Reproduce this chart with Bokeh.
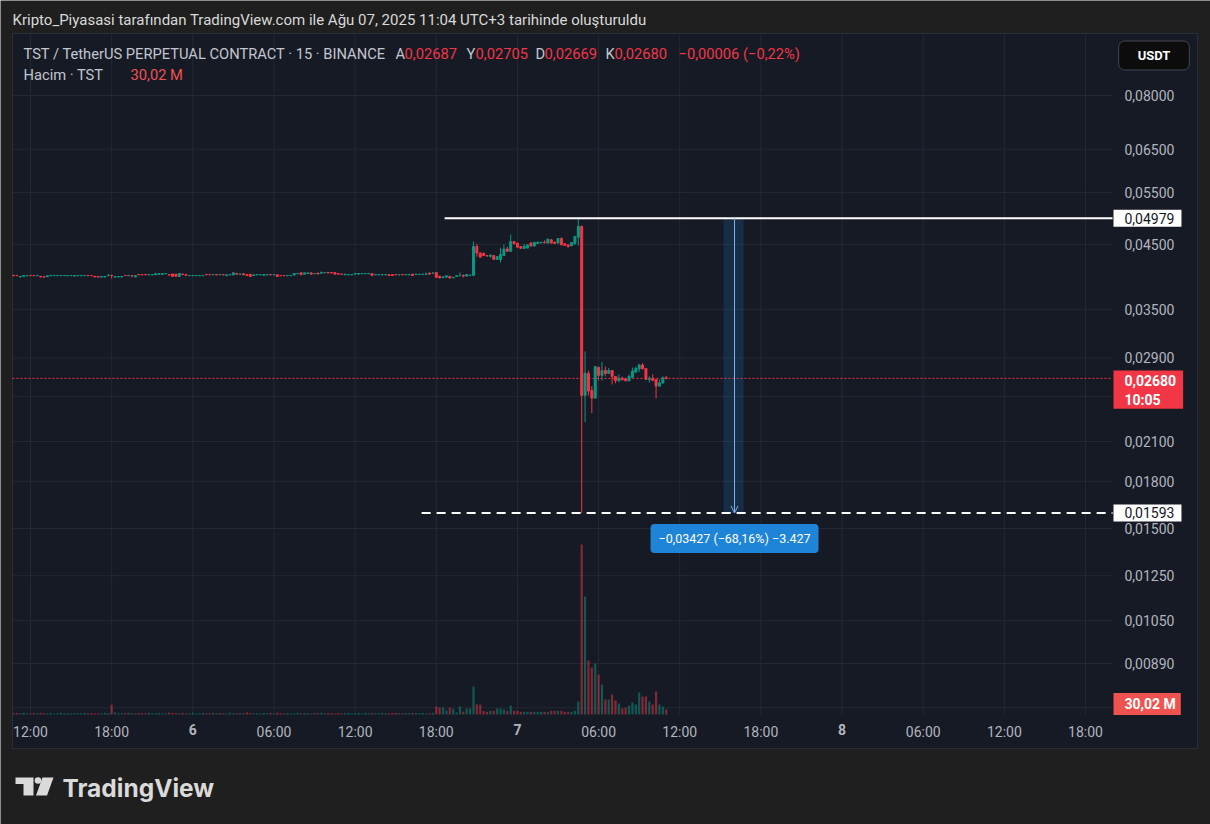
import math
import numpy as np
import pandas as pd
from bokeh.plotting import figure
from bokeh.models import (ColumnDataSource, Range1d, LinearScale, FixedTicker, LinearAxis,
                          CustomJSTickFormatter, Label, Arrow, OpenHead)
from bokeh.embed import file_html
from bokeh.resources import INLINE

# ---------------------------------------------------------------- data
START = "2025-08-05 10:45"          # first visible 15-minute candle (UTC+3)
# prices in units of 0.00001 USDT
OPEN = [
    3992, 3990, 3966, 3976, 3985, 3990, 3988, 3985, 3976, 3970,
    3970, 3985, 3986, 3986, 3985, 3986, 3985, 3986, 3984, 3985,
    3986, 3985, 3990, 3989, 3976, 3974, 3964, 3965, 3986, 3992,
    3964, 3965, 3966, 3990, 3985, 3990, 3966, 4004, 4003, 4004,
    3999, 3999, 4002, 4005, 4006, 4015, 4003, 4012, 4010, 3975,
    4012, 4002, 3985, 3985, 3986, 3985, 3986, 4004, 4003, 3999,
    4003, 3999, 4004, 3987, 3999, 3998, 4022, 4008, 4016, 4005,
    4008, 3990, 3999, 3999, 3990, 3999, 4003, 3999, 4000, 3988,
    3989, 3985, 3986, 3996, 4018, 4032, 4008, 4020, 4030, 4016,
    4026, 4024, 4030, 4036, 4035, 4034, 4020, 4012, 4000, 3999,
    3999, 4010, 4010, 4016, 4016, 4016, 4020, 3999, 3999, 3999,
    3999, 4003, 4001, 4004, 3999, 4004, 3999, 3999, 4010, 4005,
    4005, 4005, 4005, 4028, 4026, 4036, 3978, 3955, 3964, 3976,
    3953, 3974, 3985, 3990, 3980, 3990, 3990, 4463, 4351, 4344,
    4310, 4295, 4310, 4244, 4244, 4310, 4420, 4380, 4549, 4520,
    4460, 4432, 4435, 4525, 4470, 4515, 4525, 4535, 4522, 4580,
    4535, 4522, 4603, 4510, 4490, 4475, 4520, 4626, 4822, 2509,
    2734, 2557, 2483, 2795, 2711, 2763, 2731, 2763, 2700, 2658,
    2681, 2675, 2655, 2690, 2745, 2780, 2822, 2785, 2669, 2681,
    2669, 2601, 2633, 2687,
]
HIGH = [
    3995, 3992, 3977, 3990, 3992, 3992, 3990, 3992, 3978, 3972,
    3990, 3993, 3992, 3991, 3992, 3991, 3990, 3992, 3990, 3991,
    3992, 3990, 3992, 3991, 3978, 3976, 3976, 3976, 4012, 3995,
    3975, 3976, 3976, 3992, 3992, 3992, 3992, 4006, 4006, 4006,
    4005, 4005, 4022, 4020, 4022, 4024, 4005, 4014, 4012, 4022,
    4014, 4004, 3990, 3991, 3991, 3990, 3992, 4006, 4005, 4005,
    4012, 4005, 4006, 4003, 4005, 4036, 4024, 4014, 4018, 4007,
    4010, 4003, 4005, 4004, 4003, 4005, 4005, 4005, 4002, 3990,
    3991, 3991, 3992, 4022, 4023, 4034, 4032, 4034, 4032, 4024,
    4028, 4052, 4038, 4038, 4037, 4036, 4022, 4014, 4012, 4005,
    4005, 4022, 4022, 4023, 4023, 4024, 4022, 4005, 4006, 4005,
    4005, 4005, 4003, 4006, 4005, 4006, 4005, 4005, 4012, 4012,
    4012, 4012, 4036, 4030, 4030, 4038, 3980, 3972, 3988, 3978,
    3962, 3988, 4036, 4005, 4008, 4000, 4549, 4510, 4360, 4360,
    4315, 4335, 4315, 4295, 4445, 4500, 4460, 4675, 4555, 4525,
    4465, 4510, 4495, 4530, 4540, 4550, 4540, 4570, 4600, 4590,
    4550, 4610, 4620, 4520, 4495, 4540, 4645, 4979, 4840, 2974,
    2760, 2601, 2810, 2806, 2854, 2806, 2790, 2770, 2705, 2721,
    2700, 2680, 2721, 2795, 2806, 2836, 2842, 2790, 2700, 2721,
    2675, 2669, 2700, 2705,
]
LOW = [
    3985, 3984, 3962, 3975, 3984, 3984, 3983, 3984, 3962, 3962,
    3968, 3984, 3985, 3985, 3984, 3985, 3984, 3985, 3966, 3984,
    3985, 3984, 3984, 3983, 3963, 3963, 3962, 3963, 3984, 3943,
    3962, 3963, 3964, 3984, 3984, 3958, 3964, 3998, 3998, 3998,
    3998, 3998, 4000, 4002, 4004, 4012, 3993, 3974, 3974, 3972,
    4002, 3988, 3984, 3984, 3985, 3984, 3985, 3998, 3998, 3997,
    3990, 3998, 3998, 3985, 3998, 3996, 4008, 4006, 3998, 3988,
    3972, 3988, 3998, 3998, 3988, 3998, 3996, 3998, 3972, 3983,
    3983, 3984, 3985, 3994, 4016, 3998, 4006, 4018, 4008, 4014,
    4010, 4022, 4028, 4026, 4026, 4008, 4008, 4006, 3998, 3998,
    3998, 4008, 4008, 4014, 4015, 4015, 3986, 3998, 3998, 3998,
    3998, 3986, 3986, 3998, 3998, 3998, 3998, 3998, 3986, 4004,
    4004, 4004, 4004, 4008, 4024, 3958, 3950, 3953, 3962, 3948,
    3950, 3972, 3983, 3958, 3978, 3985, 3985, 4290, 4275, 4300,
    4295, 4275, 4235, 4240, 4195, 4300, 4375, 4370, 4505, 4445,
    4425, 4415, 4430, 4465, 4465, 4510, 4520, 4520, 4515, 4515,
    4510, 4515, 4485, 4475, 4440, 4470, 4490, 4480, 1593, 2263,
    2509, 2343, 2480, 2658, 2658, 2700, 2725, 2618, 2630, 2640,
    2660, 2650, 2650, 2685, 2740, 2745, 2775, 2665, 2638, 2650,
    2480, 2598, 2625, 2669,
]
CLOSE = [
    3986, 3985, 3976, 3988, 3990, 3986, 3985, 3990, 3966, 3964,
    3986, 3990, 3990, 3990, 3989, 3990, 3989, 3990, 3989, 3990,
    3990, 3989, 3985, 3985, 3966, 3965, 3974, 3974, 3990, 3985,
    3972, 3974, 3973, 3986, 3990, 3985, 3988, 3999, 3999, 4000,
    4004, 4003, 4018, 4016, 4018, 4020, 3995, 3976, 3978, 4020,
    4003, 3990, 3989, 3990, 3990, 3989, 3990, 3999, 3999, 4004,
    3999, 4004, 3999, 4000, 4004, 4030, 4010, 4012, 4000, 3990,
    3974, 4000, 4003, 4003, 4000, 4003, 3999, 4003, 3974, 3985,
    3985, 3989, 3990, 4020, 4021, 4000, 4030, 4030, 4010, 4020,
    4012, 4036, 4036, 4028, 4028, 4010, 4010, 4008, 4010, 4003,
    4003, 4020, 4020, 4021, 4021, 4021, 3988, 4003, 4003, 4003,
    4003, 3988, 3988, 3999, 4002, 3999, 4003, 4003, 3988, 4010,
    4010, 4010, 4010, 4010, 4028, 3960, 3952, 3968, 3985, 3950,
    3960, 3985, 3990, 3980, 4005, 3995, 4463, 4351, 4283, 4310,
    4300, 4310, 4244, 4290, 4327, 4420, 4380, 4549, 4510, 4450,
    4430, 4465, 4490, 4470, 4535, 4535, 4535, 4525, 4590, 4522,
    4515, 4603, 4490, 4480, 4463, 4532, 4639, 4822, 2509, 2734,
    2551, 2483, 2806, 2711, 2763, 2731, 2763, 2700, 2658, 2681,
    2665, 2655, 2700, 2757, 2785, 2822, 2780, 2669, 2681, 2660,
    2601, 2633, 2686, 2680,
]
# volume in millions of TST
VOLUME_M = [
    8, 9, 7, 10, 8, 6, 9, 7, 11, 8,
    7, 9, 6, 8, 10, 7, 8, 6, 9, 7,
    8, 10, 7, 9, 6, 8, 7, 11, 9, 58,
    12, 8, 7, 9, 10, 8, 6, 9, 8, 7,
    10, 8, 7, 9, 6, 8, 12, 9, 7, 8,
    9, 7, 8, 10, 6, 8, 9, 7, 8, 10,
    7, 9, 8, 6, 10, 8, 7, 9, 8, 12,
    9, 7, 8, 6, 9, 8, 10, 7, 11, 8,
    7, 9, 6, 8, 10, 7, 9, 8, 6, 9,
    8, 10, 7, 9, 8, 6, 9, 7, 8, 10,
    7, 8, 9, 6, 10, 8, 9, 7, 8, 9,
    8, 7, 9, 10, 8, 7, 9, 8, 10, 9,
    8, 9, 7, 8, 10, 48, 42, 42, 24, 42,
    34, 12, 48, 18, 36, 36, 168, 60, 60, 22,
    16, 22, 22, 36, 36, 30, 22, 54, 22, 22,
    16, 16, 16, 16, 16, 16, 16, 16, 16, 22,
    22, 22, 22, 16, 16, 16, 22, 78, 1020, 708,
    324, 282, 306, 240, 180, 90, 90, 120, 84, 66,
    36, 42, 54, 72, 60, 132, 108, 108, 78, 60,
    138, 60, 48, 30.02,
]

Y_TICKS = [0.08, 0.065, 0.055, 0.045, 0.035, 0.029, 0.025, 0.021, 0.018,
           0.015, 0.0125, 0.0105, 0.0089, 0.0075]
X_TICK_FIRST, X_TICK_LAST = "2025-08-05 12:00", "2025-08-08 18:00"
DAY_TICKS = ["2025-08-06", "2025-08-07", "2025-08-08"]

TITLE = "Kripto_Piyasasi tarafından TradingView.com ile Ağu 07, 2025 11:04 UTC+3 tarihinde oluşturuldu"
SYMBOL = "TST / TetherUS PERPETUAL CONTRACT · 15 · BINANCE"
OHLC_KEYS = ["A", "Y", "D", "K"]
OHLC_VALS = ["0,02687", "0,02705", "0,02669", "0,02680"]
CHANGE = "−0,00006 (−0,22%)"
VOL_NAME, VOL_TEXT = "Hacim · TST", "30,02 M"
LAST_PRICE, LAST_TEXT, COUNTDOWN = 0.02680, "0,02680", "10:05"

HI_LEVEL, HI_TEXT, HI_FROM = 0.04979, "0,04979", "2025-08-06 18:37"
LO_LEVEL, LO_TEXT, LO_FROM = 0.01593, "0,01593", "2025-08-06 16:55"
MEAS_LEFT, MEAS_RIGHT, MEAS_ARROW = "2025-08-07 15:14", "2025-08-07 16:43", "2025-08-07 16:03"
MEAS_TEXT = "−0,03427 (−68,16%) −3.427"

# ---------------------------------------------------------------- style / layout
W, H = 1210, 824
OUTER = "#1f1f1f"
BG = "#161a25"
BORDER = "#2a2e39"
GRID = "#242833"
TXT = "#b2b5be"
LEG = "#c3c6ce"
UP, DN = "#089981", "#f23645"
MBLUE = "#2196f3"
FONT = "Roboto"

# screen calibration of the chart: 12:00 (Aug 5) at x=30 px, 0.08 at y=95 px
T_REF, PX_REF, PX_PER_HOUR = "2025-08-05 12:00", 30.0, 13.526
P_REF, PY_REF, PX_PER_LN = 0.08, 95.0, 258.66
PANEL = (12, 1197, 33, 748)      # left, right, top, bottom (px)
PLOT_RIGHT, PLOT_BOTTOM = 1112, 714
VOL_PX = 6.0                     # million TST per pixel


def ms(t):
    return pd.Timestamp(t).value / 1e6


def x_at(px):
    return ms(T_REF) + (px - PX_REF) / PX_PER_HOUR * 3.6e6


def y_at(py):
    return P_REF * math.exp(-(py - PY_REF) / PX_PER_LN)


def add_label(fig, pad=None, radius=None, **kw):
    kw.setdefault("text_font", FONT)
    lab = Label(**kw)
    if pad is not None:
        try:
            lab.padding = pad
        except Exception:
            lab.padding = max(pad.values())
    if radius is not None:
        try:
            lab.border_radius = radius
        except Exception:
            pass
    fig.add_layout(lab)
    return lab


times = pd.date_range(START, periods=len(OPEN), freq="15min")
o = np.array(OPEN) / 1e5
h = np.array(HIGH) / 1e5
l = np.array(LOW) / 1e5
c = np.array(CLOSE) / 1e5
up = c >= o
src = ColumnDataSource(dict(
    t=times, o=o, h=h, l=l, c=c,
    top=np.maximum(o, c), bot=np.minimum(o, c),
    col=np.where(up, UP, DN), vol=np.array(VOLUME_M, dtype=float),
))

p = figure(width=W, height=H, x_axis_type="datetime", y_axis_type="log",
           x_range=Range1d(x_at(0), x_at(W)), y_range=Range1d(y_at(H), y_at(0)),
           y_axis_location="right", output_backend="svg", toolbar_location=None,
           min_border=0, background_fill_color=OUTER, border_fill_color=OUTER,
           outline_line_color=None)
p.title.visible = False
p.xgrid.visible = False
p.ygrid.visible = False
p.extra_y_ranges = {"vol": Range1d(-(H - PLOT_BOTTOM) * VOL_PX, PLOT_BOTTOM * VOL_PX)}
p.extra_y_scales = {"vol": LinearScale()}

XL, XR = x_at(PANEL[0]), x_at(PLOT_RIGHT)
YB = y_at(PLOT_BOTTOM)

# chart panel
p.quad(left=[x_at(PANEL[0])], right=[x_at(PANEL[1])], top=[y_at(PANEL[2])], bottom=[y_at(PANEL[3])],
       fill_color=BG, line_color=BORDER, line_width=1)

x_ticks = [ms(t) for t in pd.date_range(X_TICK_FIRST, X_TICK_LAST, freq="6h")]
day_ticks = [ms(t) for t in DAY_TICKS]

# grid lines inside the plot area
p.segment(x0=x_ticks, y0=[YB] * len(x_ticks), x1=x_ticks, y1=[y_at(PANEL[2] + 1)] * len(x_ticks),
          line_color=GRID, line_width=1)
p.segment(x0=[XL] * len(Y_TICKS), y0=Y_TICKS, x1=[XR] * len(Y_TICKS), y1=Y_TICKS,
          line_color=GRID, line_width=1)

# axes placed on the plot-area edges
p.xaxis.ticker = FixedTicker(ticks=[t for t in x_ticks if t not in day_ticks])
p.xaxis.formatter = CustomJSTickFormatter(code="""
const d = new Date(tick); const hh = d.getUTCHours();
return (hh < 10 ? '0' : '') + hh + ':00';""")
p.xaxis.fixed_location = YB
p.yaxis.ticker = FixedTicker(ticks=Y_TICKS)
p.yaxis.formatter = CustomJSTickFormatter(code="return tick.toFixed(5).replace('.', ',');")
p.yaxis.fixed_location = XR

day_axis = LinearAxis(ticker=FixedTicker(ticks=day_ticks),
                      formatter=CustomJSTickFormatter(code="return String(new Date(tick).getUTCDate());"),
                      fixed_location=YB)
p.add_layout(day_axis, "below")

for ax in (p.xaxis[0], p.yaxis[0], day_axis):
    ax.axis_line_color = None
    ax.major_tick_line_color = None
    ax.minor_tick_line_color = None
    ax.major_tick_out = 0
    ax.major_tick_in = 0
    ax.major_label_text_color = TXT
    ax.major_label_text_font = FONT
    ax.major_label_text_font_size = "14px"
    ax.major_label_standoff = 9
p.yaxis.major_label_standoff = 12
day_axis.major_label_text_font_style = "bold"

# volume
p.vbar(x="t", width=585000, top="vol", bottom=0, y_range_name="vol", source=src,
       fill_color="col", fill_alpha=0.5, line_color=None)

# current price dotted line
p.segment(x0=[XL], y0=[LAST_PRICE], x1=[XR], y1=[LAST_PRICE],
          line_color=DN, line_dash="2 2", line_width=1)

# measure box
p.quad(left=[ms(MEAS_LEFT)], right=[ms(MEAS_RIGHT)], top=[HI_LEVEL], bottom=[LO_LEVEL],
       fill_color=MBLUE, fill_alpha=0.16, line_color=None)

# candles
p.segment(x0="t", y0="h", x1="t", y1="l", line_color="col", line_width=1, source=src)
p.vbar(x="t", width=530000, top="top", bottom="bot", fill_color="col", line_color="col",
       line_width=1, source=src)

# horizontal drawings
p.segment(x0=[ms(HI_FROM)], y0=[HI_LEVEL], x1=[XR], y1=[HI_LEVEL], line_color="white", line_width=2)
p.segment(x0=[ms(LO_FROM)], y0=[LO_LEVEL], x1=[XR], y1=[LO_LEVEL], line_color="white",
          line_width=2, line_dash="9 6")
p.add_layout(Arrow(end=OpenHead(size=7, line_color="#7fb2e8", line_width=1),
                   x_start=ms(MEAS_ARROW), y_start=HI_LEVEL, x_end=ms(MEAS_ARROW), y_end=LO_LEVEL,
                   line_color="#7fb2e8", line_width=1))
add_label(p, x=ms(MEAS_ARROW), y=H - 538, y_units="screen", text=MEAS_TEXT,
          text_color="white", text_font_size="12.5px", text_align="center", text_baseline="middle",
          background_fill_color="#1e84d8", pad=dict(left=8, right=8, top=7, bottom=7), radius=4)

# title above the panel
add_label(p, x=12, y=H - 19, x_units="screen", y_units="screen", text=TITLE, text_color="#d9d9d9",
          text_font_size="15px", text_baseline="middle")

# legend (top-left of the panel)
LY1, LY2 = H - 53, H - 74
add_label(p, x=23, y=LY1, x_units="screen", y_units="screen", text=SYMBOL, text_color=LEG,
          text_font_size="14.7px", text_baseline="middle")
for xs_, key, val in zip([395, 466, 535, 605], OHLC_KEYS, OHLC_VALS):
    add_label(p, x=xs_, y=LY1, x_units="screen", y_units="screen", text=key, text_color=LEG,
              text_font_size="14.7px", text_baseline="middle")
    add_label(p, x=xs_ + 9, y=LY1, x_units="screen", y_units="screen", text=val, text_color=DN,
              text_font_size="14.7px", text_baseline="middle")
add_label(p, x=678, y=LY1, x_units="screen", y_units="screen", text=CHANGE, text_color=DN,
          text_font_size="14.7px", text_baseline="middle")
add_label(p, x=23, y=LY2, x_units="screen", y_units="screen", text=VOL_NAME, text_color=LEG,
          text_font_size="14.7px", text_baseline="middle")
add_label(p, x=130, y=LY2, x_units="screen", y_units="screen", text=VOL_TEXT, text_color="#ef5350",
          text_font_size="14.7px", text_baseline="middle")

# price-scale labels (box left edge at x=1113)
add_label(p, x=1113, y=HI_LEVEL, x_units="screen", text=HI_TEXT, text_color="#131722",
          text_font_size="14px", text_baseline="middle", background_fill_color="white",
          pad=dict(left=11, right=7, top=3, bottom=3))
add_label(p, x=1113, y=LO_LEVEL, x_units="screen", text=LO_TEXT, text_color="#131722",
          text_font_size="14px", text_baseline="middle", background_fill_color="white",
          pad=dict(left=11, right=7, top=3, bottom=3))
add_label(p, x=1113, y=H - 370, x_units="screen", y_units="screen", text=LAST_TEXT + "\n" + COUNTDOWN,
          text_color="white", text_font_size="14px", text_font_style="bold", text_baseline="top",
          background_fill_color=DN, pad=dict(left=11, right=7, top=2, bottom=1))
add_label(p, x=1113, y=H - 703.5, x_units="screen", y_units="screen", text=VOL_TEXT, text_color="white",
          text_font_size="14px", text_font_style="bold", text_baseline="middle",
          background_fill_color="#ef5350", pad=dict(left=11, right=5, top=3, bottom=3))
add_label(p, x=1153.5, y=H - 55, x_units="screen", y_units="screen", text="USDT", text_color="white",
          text_font_size="13px", text_font_style="bold", text_align="center", text_baseline="middle",
          background_fill_color="#0c0c0c", border_line_color="#434651", border_line_width=1,
          pad=dict(left=19, right=19, top=7, bottom=7), radius=6)

# TradingView logo below the panel
LOGO = "#dadada"
p.patch(x=[x_at(v) for v in (15, 33, 33, 23, 23, 15)],
        y=[y_at(v) for v in (777, 777, 795, 795, 783.5, 783.5)], fill_color=LOGO, line_color=None)
p.scatter(x=[x_at(37.5)], y=[y_at(780)], size=6.6, marker="circle", fill_color=LOGO, line_color=None)
p.patch(x=[x_at(v) for v in (42, 53, 46.5, 35.5)],
        y=[y_at(v) for v in (777, 777, 795, 795)], fill_color=LOGO, line_color=None)
add_label(p, x=62, y=H - 787, x_units="screen", y_units="screen", text="TradingView", text_color=LOGO,
          text_font="Inter", text_font_size="24.5px", text_font_style="bold", text_baseline="middle")

open("out.html", "w").write(file_html(p, INLINE))
